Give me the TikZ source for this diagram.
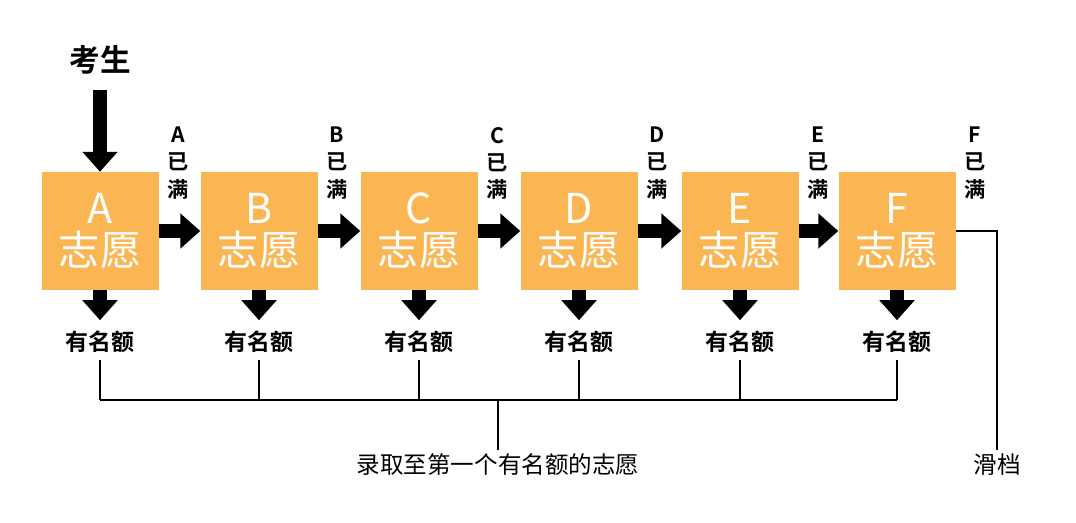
\documentclass[tikz,border=0pt]{standalone}
\usepackage{fontspec}
\newfontfamily\cjk{Noto Sans CJK SC}
\newfontfamily\cjkb{Noto Sans CJK SC Bold}
\usetikzlibrary{arrows.meta,positioning}
\definecolor{boxcol}{HTML}{F9B653}
\tikzset{
  choice/.style={fill=boxcol, minimum width=117*0.85pt, minimum height=118*0.85pt, inner sep=0pt, text=white, align=center, font=\cjk\fontsize{35}{40}\selectfont},
  bigarrow/.style={line width=12pt, -{Triangle[width=29pt,length=17pt]}},
  slot/.style={font=\cjkb\fontsize{19.5}{22}\selectfont, inner sep=1pt},
  full/.style={font=\cjkb\fontsize{18}{23}\selectfont, align=center, inner sep=0pt},
  link/.style={line width=1.6pt}
}
\begin{document}
\begin{tikzpicture}[x=0.85pt,y=-0.85pt]
\useasboundingbox (0,0) rectangle (1076,523);
\node[font=\cjkb\fontsize{26}{30}\selectfont] (student) at (100,60) {考生};
\coordinate (top) at (100,90);
\foreach \n/\x in {A/100,B/259,C/419,D/579,E/740,F/897}{
  \node[choice] (\n) at (\x,231) {\n\\[-4pt]志愿};
  \node[slot] (s\n) at (\x,342) {有名额};
  \coordinate (j\n) at (\x,400);
  \draw[bigarrow] (\n.south) -- ++(0,30);
  \draw[link] (s\n.south) ++(0,6) -- (j\n);
  \node[full] (f\n) at (\x+78,163) {\n\\已\\满};
}
\draw[bigarrow] (top) -- (A.north);
\foreach \a/\b in {A/B,B/C,C/D,D/E,E/F}
  \draw[bigarrow] (\a.east) -- (\b.west);
\draw[link] (jA) -- (jF);
\node[font=\cjk\fontsize{20}{24}\selectfont] (rule) at (498,465) {录取至第一个有名额的志愿};
\draw[link] (498,400) -- (rule.north);
\node[font=\cjk\fontsize{20}{24}\selectfont] (drop) at (997,465) {滑档};
\draw[link] (F.east) -| (drop.north);
\end{tikzpicture}
\end{document}
